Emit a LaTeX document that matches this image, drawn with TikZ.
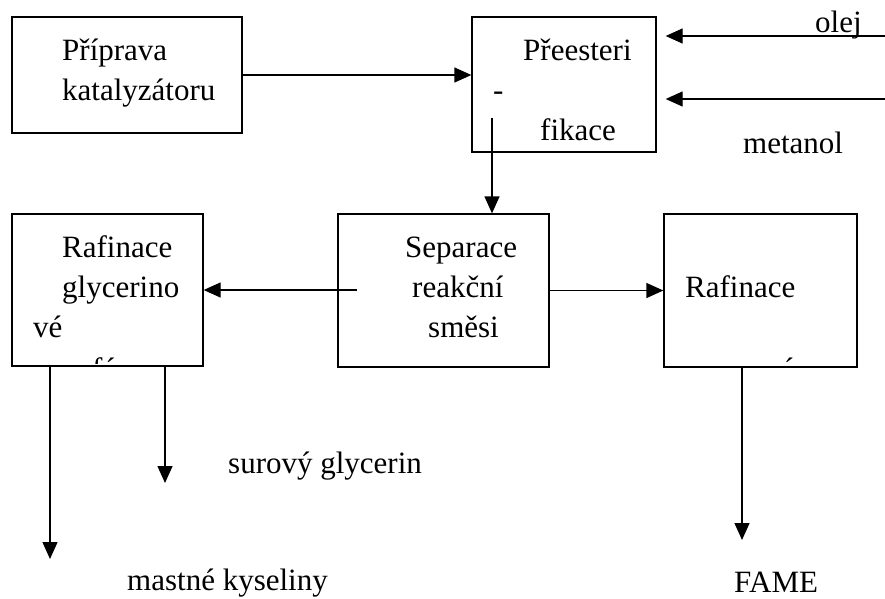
\documentclass[tikz,border=0pt]{standalone}
\usepackage{fontspec}
\setmainfont{Liberation Serif}
\usetikzlibrary{arrows.meta,positioning}

\begin{document}
\begin{tikzpicture}[
		x=1pt, y=-1pt,
		line join=miter,
		>={Triangle[length=17pt,width=15pt]},
		box/.style={draw, line width=1.3pt, inner sep=0pt},
		flow/.style={->, line width=1.3pt},
		lab/.style={anchor=base west, inner sep=0pt, font=\fontsize{31}{40}\selectfont}
	]
	\useasboundingbox (0,0) rectangle (885,598);
	
	% Boxes
	\node[box, minimum width=230pt, minimum height=116pt] (prip) at (127,75) {};
	\node[box, minimum width=184pt, minimum height=135pt] (pree) at (564,84.5) {};
	\node[box, minimum width=211pt, minimum height=153pt] (sep) at (443.5,290.5) {};
	\node[box, minimum width=191pt, minimum height=152pt] (rafg) at (107.5,290) {};
	\node[box, minimum width=193pt, minimum height=153pt] (rafe) at (760.5,290.5) {};
	
	% Texts in boxes
	\node[lab] (prip1) at (62,60) {Příprava};
	\node[lab] (prip2) at (62,100) {katalyzátoru};
	\node[lab] (pree1) at (523,60) {Přeesteri};
	\node[lab] (pree2) at (493,100) {-};
	\node[lab] (pree3) at (540,140) {fikace};
	\node[lab] (sep1) at (405,257) {Separace};
	\node[lab] (sep2) at (412,297) {reakční};
	\node[lab] (sep3) at (428,337) {směsi};
	\node[lab] (rafg1) at (62,257) {Rafinace};
	\node[lab] (rafg2) at (62,297) {glycerino};
	\node[lab] (rafg3) at (33,337) {vé};
	\node[lab] (rafe1) at (685,297) {Rafinace};
	
	% Cut off lines
	\begin{scope}
		\clip (13,215) rectangle (202,363);
		\node[lab] (rafg4) at (92,379) {fáze};
	\end{scope}
	\begin{scope}
		\clip (665,215) rectangle (856,363);
		\node[lab] (rafe2) at (765,379) {vé};
	\end{scope}
	
	% Outside texts
	\node[lab] (olej) at (815,32) {olej};
	\node[lab] (meth) at (743,153) {metanol};
	\node[lab] (glyc) at (228,473) {surový glycerin};
	\node[lab] (mast) at (127,590) {mastné kyseliny};
	\node[lab] (fame) at (734,592) {FAME};
	
	% Free ends
	\coordinate (olejin) at (885,36);
	\coordinate (methin) at (885,99);
	\coordinate (preeout) at (492,118);
	\coordinate (sepout) at (357,290);
	\coordinate (mastout) at (50,559);
	\coordinate (glycout) at (165,483);
	\coordinate (fameout) at (742,540);
	
	% Connectors
	\draw[flow] (prip.east) -- (prip.east -| pree.west);
	\draw[flow] (olejin) -- ([xshift=9pt]olejin -| pree.east);
	\draw[flow] (methin) -- ([xshift=9pt]methin -| pree.east);
	\draw[flow] (preeout) -- (preeout |- sep.north);
	\draw[flow] (sepout) -- (sepout -| rafg.east);
	\draw[flow] (sep.east) -- (sep.east -| rafe.west);
	\draw[flow] (mastout |- rafg.south) -- (mastout);
	\draw[flow] (glycout |- rafg.south) -- (glycout);
	\draw[flow] (fameout |- rafe.south) -- (fameout);
	
\end{tikzpicture}
\end{document}
